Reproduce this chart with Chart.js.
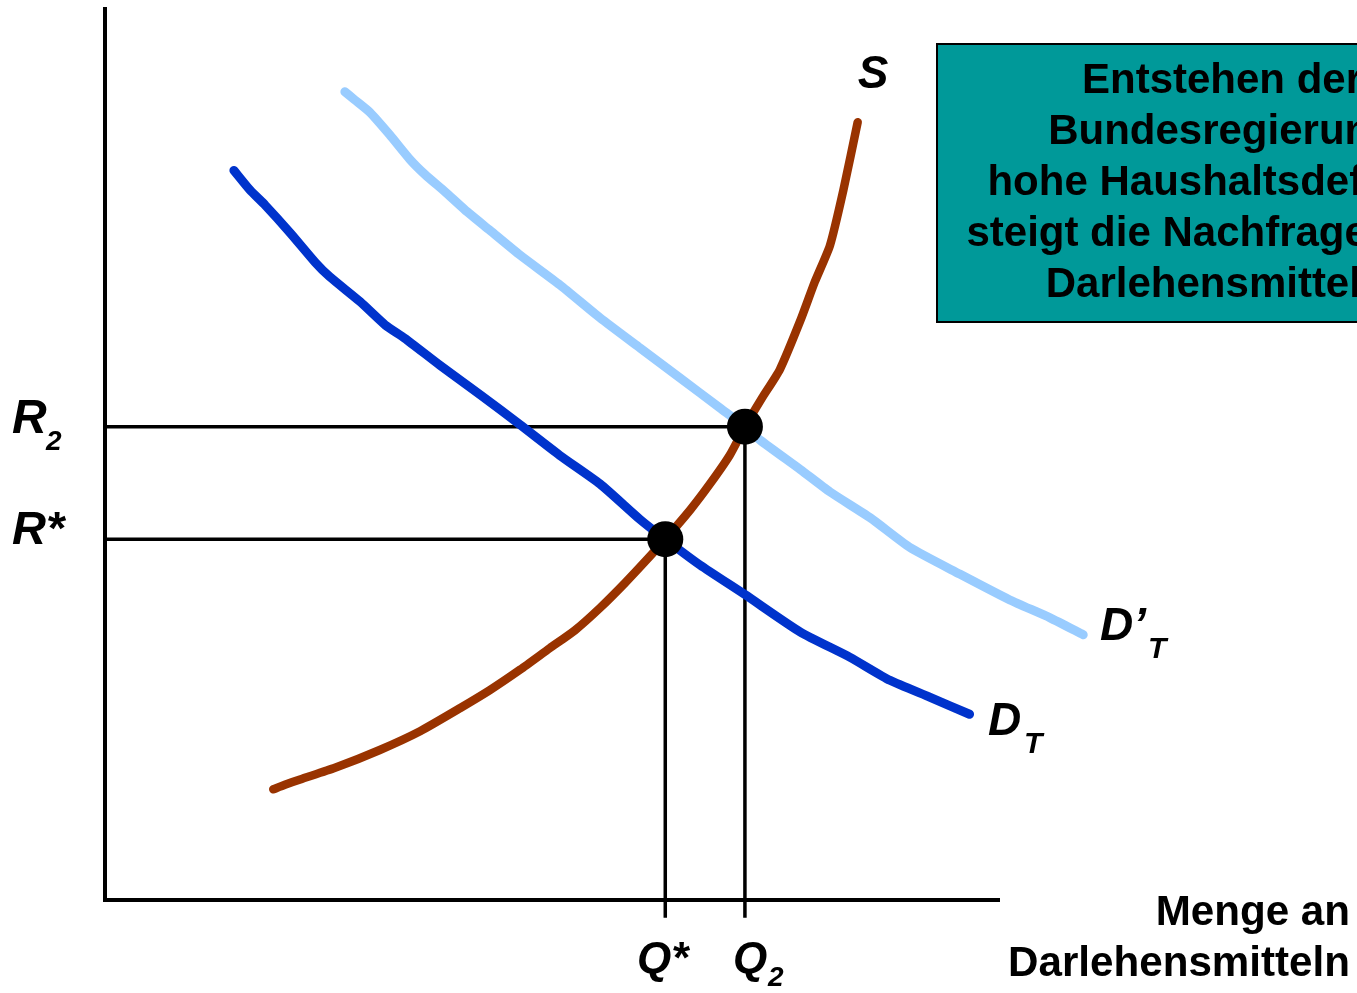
<!DOCTYPE html>
<html>
<head>
<meta charset="utf-8">
<script src="https://cdn.jsdelivr.net/npm/chart.js@4.4.1/dist/chart.umd.min.js"></script>
<style>
html,body{margin:0;padding:0;background:#fff;}
#wrap{position:relative;width:1357px;height:993px;}
</style>
</head>
<body>
<div id="wrap"><canvas id="c" width="1357" height="993"></canvas></div>
<script>
// Demand curve D_T (quantity, interest rate)
const demandX = [14.4,16.2,17.9,20.7,23.5,25.1,28.5,31.3,33.5,37.4,41.9,46.4,50.8,55.3,59.8,62.6,66.5,71.5,77.7,83.2,87.7,92.2,96.6];
const demandY = [81.7,79.5,77.8,74.7,71.4,69.8,67.0,64.4,62.9,59.9,56.6,53.2,49.8,46.6,42.6,40.4,37.5,34.2,30.0,27.2,24.6,22.7,20.8];
// Shifted demand curve D'_T
const demand2X = [26.8,27.9,29.6,31.8,34.1,35.8,38.0,40.2,43.0,46.4,50.8,55.3,59.8,64.2,68.7,71.5,73.2,77.7,81.0,85.5,89.9,95.5,101.1,105.6,109.3];
const demand2Y = [90.5,89.6,88.2,85.7,82.9,81.2,79.3,77.3,75.0,72.2,68.9,65.2,61.8,58.5,55.1,53.0,51.5,48.2,45.7,42.8,39.5,36.5,33.6,31.6,29.7];
// Supply curve S
const supplyX = [18.8,20.1,21.8,25.7,30.7,35.2,39.7,43.0,46.4,49.7,52.5,55.3,58.1,60.9,62.6,65.4,67.6,69.8,71.5,73.4,75.4,77.7,79.3,81.0,82.5,84.1];
const supplyY = [12.4,12.9,13.5,14.8,16.8,18.9,21.5,23.5,25.8,28.2,30.2,32.7,35.5,38.5,40.4,43.7,46.6,49.8,53.0,56.2,59.4,64.9,69.2,73.3,79.5,87.1];
// Equilibria: Q*, R* and Q2, R2
const eqQ = [62.6, 71.5];
const eqR = [40.4, 53.0];
const eqNames = ["*", "2"];
const boxLines = ["Entstehen der", "Bundesregierung", "hohe Haushaltsdefizite,", "steigt die Nachfrage nach", "Darlehensmitteln."];
const xAxisTitle = ["Menge an", "Darlehensmitteln"];
const axisMax = 100;

const pts = (xs, ys) => xs.map((x, i) => ({x: x, y: ys[i]}));
const guides = [];
eqQ.forEach((q, i) => {
  guides.push({data: [{x: 0, y: eqR[i]}, {x: q, y: eqR[i]}]});
  guides.push({data: [{x: q, y: eqR[i]}, {x: q, y: -2}]});
});

const FONT = '"Liberation Sans", Arial, sans-serif';

const annot = {
  id: 'annot',
  beforeDraw(chart) {
    const ctx = chart.ctx;
    ctx.save();
    ctx.fillStyle = '#ffffff';
    ctx.fillRect(0, 0, chart.width, chart.height);
    ctx.restore();
  },
  afterDraw(chart) {
    const ctx = chart.ctx;
    const xs = chart.scales.x, ys = chart.scales.y;
    const x0 = xs.getPixelForValue(0), x1 = xs.getPixelForValue(axisMax);
    const y0 = ys.getPixelForValue(0), y1 = ys.getPixelForValue(axisMax);
    ctx.save();
    // axes
    ctx.strokeStyle = '#000'; ctx.lineWidth = 4; ctx.lineCap = 'butt';
    ctx.beginPath(); ctx.moveTo(x0, y1); ctx.lineTo(x0, y0 + 2); ctx.stroke();
    ctx.beginPath(); ctx.moveTo(x0 - 2, y0); ctx.lineTo(x1, y0); ctx.stroke();

    ctx.fillStyle = '#000';
    const txt = (s, x, y, size, sx, style, align) => {
      ctx.save();
      ctx.translate(x, y); ctx.scale(sx, 1);
      ctx.font = (style || 'italic bold') + ' ' + size + 'px ' + FONT;
      ctx.textAlign = align || 'left'; ctx.textBaseline = 'alphabetic';
      ctx.fillText(s, 0, 0);
      ctx.restore();
    };
    // curve labels
    txt('S', 873, 88, 46, 1.0, 'italic bold', 'center');
    txt('D\u2019', 1100, 640, 46, 1.0);
    txt('T', 1148, 658, 30, 1.0);
    txt('D', 988, 735, 46, 1.0);
    txt('T', 1024, 753, 30, 1.0);
    // rate labels
    txt('R', 12, 433, 48, 1.0);
    txt(eqNames[1], 46, 450, 28, 1.0);
    txt('R' + eqNames[0], 12, 544, 47, 1.0);
    // quantity labels
    txt('Q' + eqNames[0], 637, 973, 44, 1.0);
    txt('Q', 733, 973, 44, 1.0);
    txt(eqNames[1], 768, 986, 28, 1.0);
    // x axis title
    txt(xAxisTitle[0], 1350, 925, 43, 0.98, 'bold', 'right');
    txt(xAxisTitle[1], 1350, 976, 43, 0.98, 'bold', 'right');
    // text box
    ctx.fillStyle = '#009999';
    ctx.fillRect(937, 44, 500, 278);
    ctx.strokeStyle = '#000'; ctx.lineWidth = 2;
    ctx.strokeRect(937, 44, 500, 278);
    ctx.fillStyle = '#000';
    boxLines.forEach((s, i) => txt(s, 1222, 93 + i * 51, 42, 1.0, 'bold', 'center'));
    ctx.restore();
  }
};

new Chart(document.getElementById('c'), {
  type: 'scatter',
  data: {
    datasets: [
      {label: 'eq', data: pts(eqQ, eqR), pointRadius: 18, pointHoverRadius: 18, backgroundColor: '#000', borderColor: '#000', borderWidth: 0, showLine: false, order: 0, clip: false},
      {label: 'S', data: pts(supplyX, supplyY), showLine: true, borderColor: '#993300', borderWidth: 8.5, pointRadius: 0, borderCapStyle: 'round', borderJoinStyle: 'round', tension: 0.2, order: 1, clip: false},
      {label: 'D_T', data: pts(demandX, demandY), showLine: true, borderColor: '#0033CC', borderWidth: 9, pointRadius: 0, borderCapStyle: 'round', borderJoinStyle: 'round', tension: 0.2, order: 2, clip: false},
      {label: "D'_T", data: pts(demand2X, demand2Y), showLine: true, borderColor: '#99CCFF', borderWidth: 9, pointRadius: 0, borderCapStyle: 'round', borderJoinStyle: 'round', tension: 0.2, order: 3, clip: false},
      ...guides.map((g, i) => ({label: 'guide' + i, data: g.data, showLine: true, borderColor: '#000', borderWidth: 3.5, pointRadius: 0, order: 4, clip: false}))
    ]
  },
  options: {
    responsive: false,
    animation: false,
    devicePixelRatio: 1,
    layout: {autoPadding: false, padding: {left: 105, right: 267.5, top: 7, bottom: 93}},
    plugins: {legend: {display: false}, tooltip: {enabled: false}},
    events: [],
    scales: {
      x: {type: 'linear', min: 0, max: 110, display: false},
      y: {type: 'linear', min: 0, max: 100, display: false}
    }
  },
  plugins: [annot]
});
</script>
</body>
</html>
